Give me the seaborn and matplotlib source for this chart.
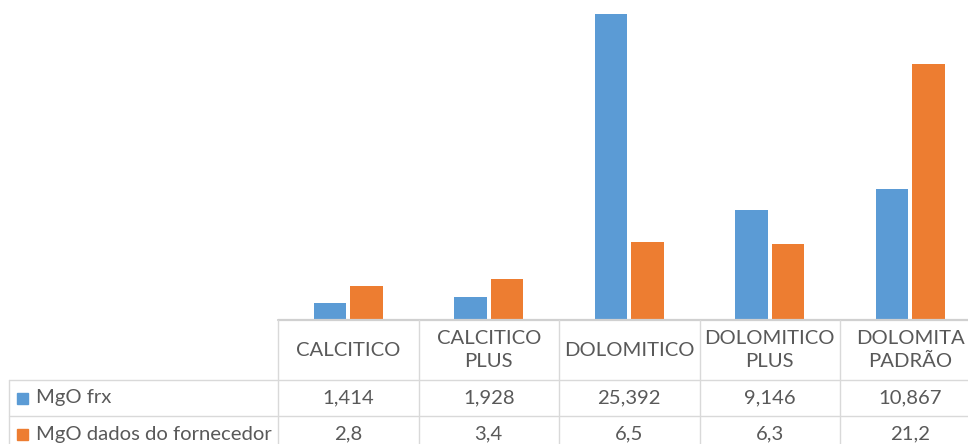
import pandas as pd
import numpy as np
import matplotlib
matplotlib.use('Agg')
import matplotlib.pyplot as plt
import seaborn as sns

categories = ['CALCITICO', 'CALCITICO\nPLUS', 'DOLOMITICO', 'DOLOMITICO\nPLUS', 'DOLOMITA\nPADRÃO']
series_names = ['MgO frx', 'MgO dados do fornecedor']
mgo_frx = [1.414, 1.928, 25.392, 9.146, 10.867]
mgo_fornecedor = [2.8, 3.4, 6.5, 6.3, 21.2]
colors = ['#5B9BD5', '#ED7D31']

df = pd.DataFrame({
    'categoria': categories * 2,
    'serie': [series_names[0]] * 5 + [series_names[1]] * 5,
    'valor': mgo_frx + mgo_fornecedor,
})

sns.set_style('white')
plt.rcParams['font.family'] = ['Lato', 'DejaVu Sans']
text_color = '#595959'
grid_color = '#D9D9D9'

W, H = 968, 444
fig = plt.figure(figsize=(W / 100, H / 100), dpi=100)

# chart area lines up with the table columns (last column runs off the right edge)
col_left, col_w = 278, 140.5
base_y = 320
ax = fig.add_axes([col_left / W, (H - base_y) / H, 5 * col_w / W, base_y / H])
sns.barplot(data=df, x='categoria', y='valor', hue='serie', order=categories,
            hue_order=series_names, palette=colors, width=0.525, gap=0.12,
            saturation=1, linewidth=0, legend=False, ax=ax)
ax.set_xlim(-0.5, 4.5)
ax.set_ylim(0, 26.55)
ax.set_axis_off()


def fx(x):
    return x / W


def fy(y):
    return 1 - y / H


def hline(y, x0, x1, lw=1.0, c=grid_color):
    fig.add_artist(plt.Line2D([fx(x0), fx(x1)], [fy(y), fy(y)], color=c, lw=lw))


def vline(x, y0, y1):
    fig.add_artist(plt.Line2D([fx(x), fx(x)], [fy(y0), fy(y1)], color=grid_color, lw=1.0))


row1_top, row2_top, bottom = 380, 416, 452
hline(base_y, col_left, W, lw=1.6, c='#D0D0D0')
hline(row1_top, 9, W)
hline(row2_top, 9, W)
vline(9, row1_top, bottom)
for i in range(5):
    vline(col_left + i * col_w, base_y, bottom)

fs = 14.6
for i, cat in enumerate(categories):
    cx = col_left + (i + 0.5) * col_w
    fig.text(fx(cx), fy((base_y + row1_top) / 2), cat, ha='center', va='center',
             fontsize=fs, color=text_color, linespacing=1.45)

rows = [
    (series_names[0], [f'{v:.3f}'.replace('.', ',') for v in mgo_frx], row1_top, row2_top),
    (series_names[1], [f'{v:.1f}'.replace('.', ',') for v in mgo_fornecedor], row2_top, bottom),
]
for k, (name, vals, y0, y1) in enumerate(rows):
    cy = (y0 + y1) / 2
    if k == 1:
        cy = y0 + 18
    fig.add_artist(plt.Rectangle((fx(17), fy(cy + 5.5)), 11 / W, 11 / H, color=colors[k],
                                 transform=fig.transFigure))
    fig.text(fx(36), fy(cy), name, ha='left', va='center', fontsize=fs, color=text_color)
    for i, v in enumerate(vals):
        cx = col_left + (i + 0.5) * col_w
        fig.text(fx(cx), fy(cy), v, ha='center', va='center', fontsize=fs, color=text_color)

fig.savefig('out.png', dpi=100)
